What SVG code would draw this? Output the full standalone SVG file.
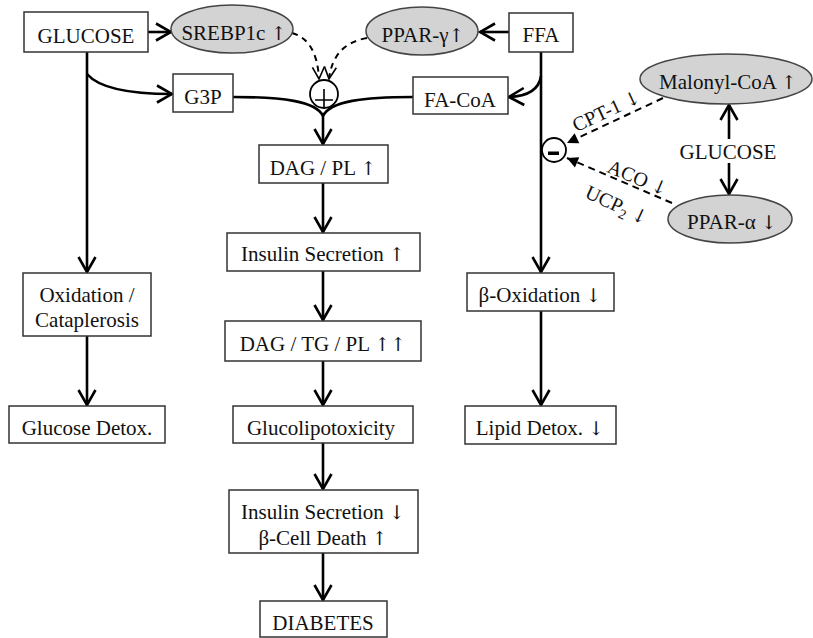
<svg xmlns="http://www.w3.org/2000/svg" width="813" height="638" viewBox="0 0 813 638">
<style>
  .box { fill: #ffffff; stroke: #333333; stroke-width: 1.5; }
  .ell { fill: #d3d3d3; stroke: #444444; stroke-width: 1.5; }
  .t { font-family: "Liberation Serif", "Times New Roman", serif; font-size: 21px; fill: #111111; text-anchor: middle; }
  .lbl { font-family: "Liberation Serif", "Times New Roman", serif; font-size: 20px; fill: #111111; text-anchor: middle; }
  .ar { font-family: "DejaVu Serif", "DejaVu Sans", serif; font-size: 19px; fill: #111111; }
  .ln { fill: none; stroke: #000000; stroke-width: 2.6; }
  .dash { fill: none; stroke: #000000; stroke-width: 2; stroke-dasharray: 7 5; }
  .dash2 { fill: none; stroke: #000000; stroke-width: 2; stroke-dasharray: 6 5; }
</style>
<defs>
  <marker id="arr" markerUnits="userSpaceOnUse" viewBox="-17 -10 19 20" markerWidth="19" markerHeight="20" refX="0" refY="0" orient="auto">
    <path d="M-15,-8.5 L0,0 L-15,8.5" fill="none" stroke="#000" stroke-width="2.6" stroke-linejoin="miter"/>
  </marker>
  <marker id="varr" markerUnits="userSpaceOnUse" viewBox="-14 -8 16 16" markerWidth="16" markerHeight="16" refX="0" refY="0" orient="auto">
    <path d="M-12,-6 L0,0 L-12,6" fill="none" stroke="#000" stroke-width="1.6"/>
  </marker>
  <marker id="farr" markerUnits="userSpaceOnUse" viewBox="-12 -7 13 14" markerWidth="13" markerHeight="14" refX="0" refY="0" orient="auto">
    <path d="M-11,-5.5 L0,0 L-11,5.5 Z" fill="#000" stroke="none"/>
  </marker>
</defs>

<g id="connectors">
  <path class="ln" d="M148,32 L171,32" marker-end="url(#arr)"/>
  <path class="ln" d="M509,32 L480,32" marker-end="url(#arr)"/>
  <path class="ln" d="M87,52 L87,272" marker-end="url(#arr)"/>
  <path class="ln" d="M87,74 Q104,94 172,94" marker-end="url(#arr)"/>
  <path class="ln" d="M87,336 L87,405" marker-end="url(#arr)"/>
  <path class="ln" d="M541,52 L541,272" marker-end="url(#arr)"/>
  <path class="ln" d="M541,76 Q538,96 509,97" marker-end="url(#arr)"/>
  <path class="ln" d="M541,311 L541,405" marker-end="url(#arr)"/>
  <path class="ln" d="M233,97 C282,97 316,101 323,116"/>
  <path class="ln" d="M413,97 C364,97 330,101 323,116"/>
  <path class="ln" d="M323,115 L323,144" marker-end="url(#arr)"/>
  <path class="ln" d="M323,183 L323,232" marker-end="url(#arr)"/>
  <path class="ln" d="M323,271 L323,320" marker-end="url(#arr)"/>
  <path class="ln" d="M323,361 L323,405" marker-end="url(#arr)"/>
  <path class="ln" d="M323,443 L323,489" marker-end="url(#arr)"/>
  <path class="ln" d="M323,553 L323,600" marker-end="url(#arr)"/>
  <path class="ln" d="M729,139 L729,105" marker-end="url(#arr)"/>
  <path class="ln" d="M729,163 L729,194" marker-end="url(#arr)"/>
  <path class="dash2" d="M292,33 Q317,40 319,79" marker-end="url(#varr)"/>
  <path class="dash2" d="M367,38 Q333,44 329,79" marker-end="url(#varr)"/>
  <path class="dash" d="M663,98 L567,143" marker-end="url(#farr)"/>
  <path class="dash" d="M672,203 L567,158" marker-end="url(#farr)"/>
</g>

<g id="glucose">
  <rect class="box" x="24" y="12" width="124" height="40"/>
  <text class="t" x="86" y="43">GLUCOSE</text>
</g>
<g id="srebp1c">
  <ellipse class="ell" cx="232" cy="29" rx="61" ry="24"/>
  <text class="t" x="234" y="40">SREBP1c <tspan class="ar">↑</tspan></text>
</g>
<g id="ppar-gamma">
  <ellipse class="ell" cx="422" cy="31" rx="56" ry="24"/>
  <text class="t" x="423" y="42">PPAR-γ<tspan class="ar">↑</tspan></text>
</g>
<g id="ffa">
  <rect class="box" x="509" y="13" width="64" height="39"/>
  <text class="t" x="541" y="42">FFA</text>
</g>
<g id="g3p">
  <rect class="box" x="173" y="74" width="60" height="38"/>
  <text class="t" x="203" y="104">G3P</text>
</g>
<g id="fa-coa">
  <rect class="box" x="413" y="77" width="95" height="37"/>
  <text class="t" x="460" y="107">FA-CoA</text>
</g>
<g id="plus">
  <circle cx="324" cy="94" r="14" fill="#fff" stroke="#000" stroke-width="1.8"/>
  <path d="M315,100 L333,100 M324,89 L324,108" stroke="#000" stroke-width="1.6" fill="none"/>
</g>
<g id="dag-pl">
  <rect class="box" x="259" y="145" width="129" height="38"/>
  <text class="t" x="323" y="175">DAG / PL <tspan class="ar">↑</tspan></text>
</g>
<g id="insulin-up">
  <rect class="box" x="227" y="233" width="193" height="38"/>
  <text class="t" x="323" y="261">Insulin Secretion <tspan class="ar">↑</tspan></text>
</g>
<g id="dag-tg-pl">
  <rect class="box" x="225" y="321" width="196" height="40"/>
  <text class="t" x="323" y="351">DAG / TG / PL <tspan class="ar">↑↑</tspan></text>
</g>
<g id="glucolipotoxicity">
  <rect class="box" x="233" y="406" width="180" height="37"/>
  <text class="t" x="321" y="435">Glucolipotoxicity</text>
</g>
<g id="insulin-down">
  <rect class="box" x="229" y="490" width="189" height="63"/>
  <text class="t" x="323" y="519">Insulin Secretion <tspan class="ar">↓</tspan></text>
  <text class="t" x="323" y="545">β-Cell Death <tspan class="ar">↑</tspan></text>
</g>
<g id="diabetes">
  <rect class="box" x="260" y="601" width="127" height="36"/>
  <text class="t" x="323" y="630">DIABETES</text>
</g>
<g id="oxidation">
  <rect class="box" x="23" y="273" width="128" height="63"/>
  <text class="t" x="87" y="302">Oxidation /</text>
  <text class="t" x="87" y="327">Cataplerosis</text>
</g>
<g id="glucose-detox">
  <rect class="box" x="9" y="406" width="156" height="37"/>
  <text class="t" x="87" y="435">Glucose Detox.</text>
</g>
<g id="beta-oxidation">
  <rect class="box" x="467" y="273" width="147" height="38"/>
  <text class="t" x="540" y="302">β-Oxidation <tspan class="ar">↓</tspan></text>
</g>
<g id="lipid-detox">
  <rect class="box" x="465" y="406" width="151" height="38"/>
  <text class="t" x="540" y="435">Lipid Detox. <tspan class="ar">↓</tspan></text>
</g>
<g id="malonyl-coa">
  <ellipse class="ell" cx="726" cy="79" rx="86" ry="25"/>
  <text class="t" x="728" y="89">Malonyl-CoA <tspan class="ar">↑</tspan></text>
</g>
<g id="glucose-right">
  <text class="t" x="728" y="159">GLUCOSE</text>
</g>
<g id="ppar-alpha">
  <ellipse class="ell" cx="730" cy="219" rx="62" ry="24"/>
  <text class="t" x="732" y="229">PPAR-α <tspan class="ar">↓</tspan></text>
</g>
<g id="minus">
  <circle cx="554" cy="150" r="12" fill="#fff" stroke="#000" stroke-width="1.8"/>
  <rect x="548" y="151.5" width="11" height="3.5" fill="#000"/>
</g>
<g id="labels">
  <text class="lbl" x="609" y="117" transform="rotate(-25 609 117)">CPT-1 <tspan class="ar">↓</tspan></text>
  <text class="lbl" x="635" y="184" transform="rotate(23 635 184)">ACO <tspan class="ar">↓</tspan></text>
  <text class="lbl" x="614" y="211" transform="rotate(25 614 211)">UCP<tspan font-size="14" dy="4">2</tspan><tspan dy="-4"> </tspan><tspan class="ar">↓</tspan></text>
</g>
</svg>
